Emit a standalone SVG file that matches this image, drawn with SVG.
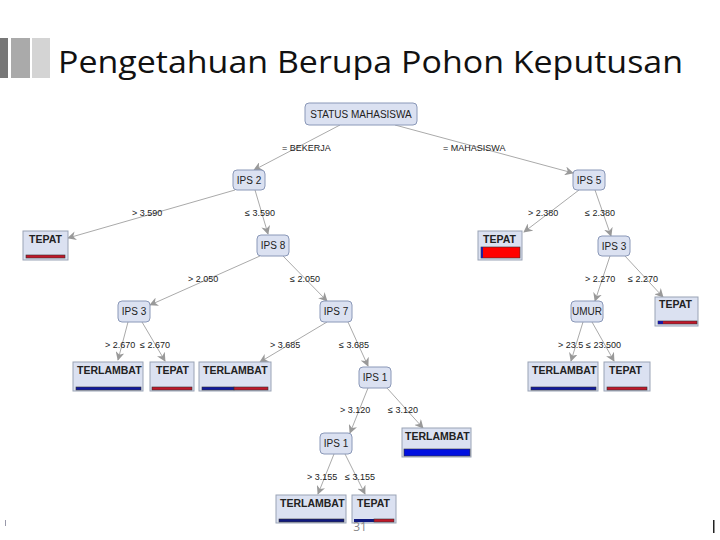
<svg xmlns="http://www.w3.org/2000/svg" width="720" height="540" viewBox="0 0 720 540">
<style>
.n{fill:#dbe1f1;stroke:#8a98b8;stroke-width:1}
.l{fill:#dbe1f1;stroke:#9aa3b5;stroke-width:1}
.t{font-family:"Liberation Sans",Arial,sans-serif;font-size:10px;fill:#222}
.b{font-family:"Liberation Sans",Arial,sans-serif;font-size:10.5px;font-weight:bold;fill:#222}
.e{font-family:"Liberation Sans",Arial,sans-serif;font-size:9px;fill:#222}
.c line{stroke:#aaa;stroke-width:1;marker-end:url(#a)}
</style>
<defs><marker id="a" viewBox="0 0 10 10" refX="9" refY="5" markerWidth="9" markerHeight="9" orient="auto"><path d="M0,0 L10,5 L0,10 L3,5 Z" fill="#999"/></marker></defs>
<rect width="720" height="540" fill="#fff"/>
<rect x="0" y="38" width="8" height="40" fill="#777"/>
<rect x="11" y="38" width="19" height="40" fill="#aaa"/>
<rect x="32" y="38" width="18" height="40" fill="#d4d4d4"/>
<text x="58" y="73" font-family="'Open Sans',sans-serif" font-size="31" textLength="625" lengthAdjust="spacingAndGlyphs" fill="#111">Pengetahuan Berupa Pohon Keputusan</text>
<g class="c">
<line x1="340" y1="125" x2="254" y2="170"/>
<line x1="395" y1="125" x2="573" y2="173"/>
<line x1="235" y1="190" x2="68" y2="238"/>
<line x1="255" y1="190" x2="268" y2="234"/>
<line x1="260" y1="256" x2="150" y2="305"/>
<line x1="283" y1="256" x2="327" y2="301"/>
<line x1="579" y1="190" x2="524" y2="232"/>
<line x1="595" y1="190" x2="611" y2="236"/>
<line x1="610" y1="256" x2="595" y2="301"/>
<line x1="625" y1="256" x2="663" y2="297"/>
<line x1="128" y1="322" x2="118" y2="360"/>
<line x1="142" y1="322" x2="165" y2="361"/>
<line x1="327" y1="322" x2="260" y2="362"/>
<line x1="348" y1="322" x2="368" y2="366"/>
<line x1="368" y1="388" x2="350" y2="433"/>
<line x1="387" y1="388" x2="423" y2="428"/>
<line x1="334" y1="454" x2="318" y2="494"/>
<line x1="345" y1="454" x2="365" y2="494"/>
<line x1="583" y1="322" x2="571" y2="361"/>
<line x1="592" y1="322" x2="614" y2="361"/>
</g>
<g class="e">
<text x="282" y="151">= BEKERJA</text>
<text x="443" y="151">= MAHASISWA</text>
<text x="132" y="216">&gt; 3.590</text>
<text x="245" y="216">≤ 3.590</text>
<text x="188" y="282">&gt; 2.050</text>
<text x="290" y="282">≤ 2.050</text>
<text x="528" y="216">&gt; 2.380</text>
<text x="585" y="216">≤ 2.380</text>
<text x="585" y="282">&gt; 2.270</text>
<text x="628" y="282">≤ 2.270</text>
<text x="105" y="348">&gt; 2.670</text>
<text x="140" y="348">≤ 2.670</text>
<text x="270" y="348">&gt; 3.685</text>
<text x="339" y="348">≤ 3.685</text>
<text x="340" y="413">&gt; 3.120</text>
<text x="388" y="413">≤ 3.120</text>
<text x="307" y="480">&gt; 3.155</text>
<text x="345" y="480">≤ 3.155</text>
<text x="558" y="348">&gt; 23.5</text>
<text x="586" y="348">≤ 23.500</text>
</g>
<g id="root"><rect class="n" x="305" y="103" width="112" height="22" rx="4"/><text class="t" x="361" y="118" text-anchor="middle">STATUS MAHASISWA</text></g>
<g id="ips2"><rect class="n" x="233" y="170" width="32" height="20" rx="4"/><text class="t" x="249" y="184" text-anchor="middle">IPS 2</text></g>
<g id="ips5"><rect class="n" x="573" y="170" width="32" height="20" rx="4"/><text class="t" x="589" y="184" text-anchor="middle">IPS 5</text></g>
<g id="ips8"><rect class="n" x="257" y="235" width="32" height="21" rx="4"/><text class="t" x="273" y="249" text-anchor="middle">IPS 8</text></g>
<g id="ips3r"><rect class="n" x="598" y="236" width="32" height="20" rx="4"/><text class="t" x="614" y="250" text-anchor="middle">IPS 3</text></g>
<g id="ips3l"><rect class="n" x="118" y="301" width="32" height="21" rx="4"/><text class="t" x="134" y="315" text-anchor="middle">IPS 3</text></g>
<g id="ips7"><rect class="n" x="320" y="301" width="32" height="21" rx="4"/><text class="t" x="336" y="315" text-anchor="middle">IPS 7</text></g>
<g id="umur"><rect class="n" x="571" y="301" width="32" height="21" rx="4"/><text class="t" x="587" y="315" text-anchor="middle">UMUR</text></g>
<g id="ips1a"><rect class="n" x="359" y="367" width="32" height="21" rx="4"/><text class="t" x="375" y="381" text-anchor="middle">IPS 1</text></g>
<g id="ips1b"><rect class="n" x="320" y="433" width="32" height="21" rx="4"/><text class="t" x="336" y="447" text-anchor="middle">IPS 1</text></g>
<g id="leaf1"><rect class="l" x="23" y="231" width="45" height="29"/><text class="b" x="29" y="243">TEPAT</text><rect x="26" y="255" width="39" height="3" fill="#c0182a" stroke="#333" stroke-width="0.6"/></g>
<g id="leaf2"><rect class="l" x="478" y="231" width="44" height="29"/><text class="b" x="483" y="243">TEPAT</text><rect x="481" y="247" width="39" height="11" fill="#f00" stroke="#333" stroke-width="0.6"/><rect x="481" y="247" width="2" height="11" fill="#2020a0"/></g>
<g id="leaf3"><rect class="l" x="655" y="297" width="43" height="29"/><text class="b" x="659" y="308">TEPAT</text><rect x="658" y="321" width="39" height="3" fill="#c0182a" stroke="#333" stroke-width="0.6"/><rect x="658" y="321" width="5" height="3" fill="#1a1aa0"/></g>
<g id="leaf4"><rect class="l" x="73" y="362" width="70" height="29"/><text class="b" x="77" y="374">TERLAMBAT</text><rect x="76" y="387" width="65" height="3" fill="#101aa0" stroke="#333" stroke-width="0.6"/></g>
<g id="leaf5"><rect class="l" x="150" y="362" width="44" height="29"/><text class="b" x="156" y="374">TEPAT</text><rect x="152" y="387" width="40" height="3" fill="#c0182a" stroke="#333" stroke-width="0.6"/></g>
<g id="leaf6"><rect class="l" x="199" y="362" width="72" height="29"/><text class="b" x="203" y="374">TERLAMBAT</text><rect x="202" y="387" width="32" height="3" fill="#101aa0" stroke="#333" stroke-width="0.6"/><rect x="234" y="387" width="34" height="3" fill="#c0182a" stroke="#333" stroke-width="0.6"/></g>
<g id="leaf7"><rect class="l" x="402" y="428" width="69" height="29"/><text class="b" x="405" y="440">TERLAMBAT</text><rect x="404" y="449" width="66" height="7" fill="#0010e0" stroke="#333" stroke-width="0.6"/></g>
<g id="leaf8"><rect class="l" x="276" y="495" width="70" height="28"/><text class="b" x="280" y="507">TERLAMBAT</text><rect x="279" y="519" width="65" height="3" fill="#101a80" stroke="#333" stroke-width="0.6"/></g>
<g id="leaf9"><rect class="l" x="352" y="495" width="44" height="28"/><text class="b" x="357" y="507">TEPAT</text><rect x="354" y="519" width="20" height="3" fill="#101a80"/><rect x="374" y="519" width="20" height="3" fill="#c0182a" stroke="#333" stroke-width="0.6"/></g>
<g id="leaf10"><rect class="l" x="528" y="362" width="70" height="29"/><text class="b" x="532" y="374">TERLAMBAT</text><rect x="531" y="387" width="65" height="3" fill="#101aa0" stroke="#333" stroke-width="0.6"/></g>
<g id="leaf11"><rect class="l" x="604" y="362" width="46" height="29"/><text class="b" x="609" y="374">TEPAT</text><rect x="607" y="387" width="40" height="3" fill="#c0182a" stroke="#333" stroke-width="0.6"/></g>
<text x="360" y="531" font-family="'Open Sans',sans-serif" font-size="12" fill="#888" text-anchor="middle">31</text>
<rect x="5" y="520" width="1" height="6" fill="#99a"/>
<rect x="713" y="520" width="1.5" height="13" fill="#222"/>
</svg>
